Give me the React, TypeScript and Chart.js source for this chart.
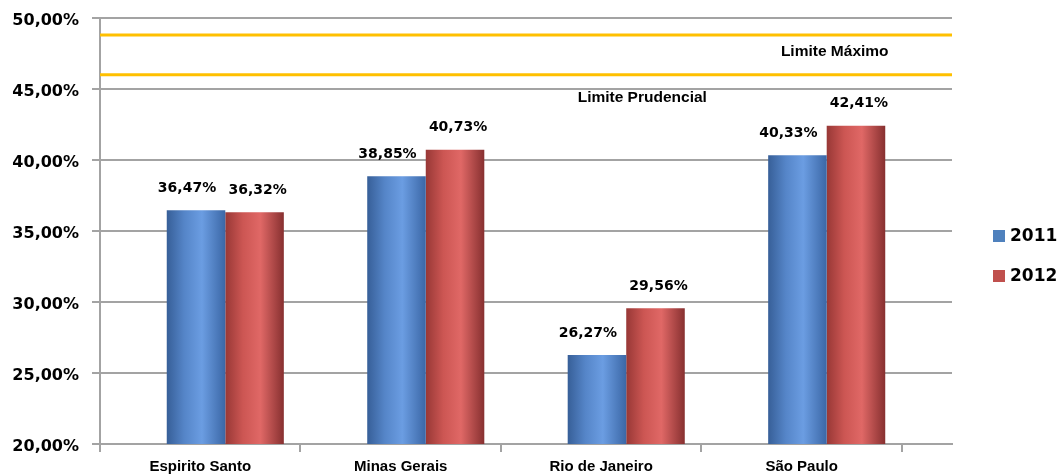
import React, { useEffect, useRef } from 'react';
import { Chart, registerables } from 'chart.js';

Chart.register(...registerables);

// ---- data ----
const categories = ['Espirito Santo', 'Minas Gerais', 'Rio de Janeiro', 'São Paulo'];
const seriesLabels = ['2011', '2012'];
const values2011 = [36.47, 38.85, 26.27, 40.33];
const values2012 = [36.32, 40.73, 29.56, 42.41];
const limitValues = [48.8, 46.0];
const limitLabels = ['Limite Máximo', 'Limite Prudencial'];
const yMin = 20;
const yMax = 50;
const yStep = 5;

// ---- styles ----
const GRID = '#a3a3a3';
const LIMIT_COLOR = '#ffc000';
const palette = [
  { solid: '#4f81bd', stops: ['#375f98', '#5585c8', '#6b9de2', '#3b67a6'], labelDx: -9 },
  { solid: '#c0504d', stops: ['#983836', '#cc5653', '#e06866', '#873030'], labelDx: 3 },
];
const fmt = (v: number) => v.toFixed(2).replace('.', ',') + '%';

// annotation placement (x in category units, y in axis units)
const annotationPlacement = [
  { x: 3.04, y: 47.6 },
  { x: 2.08, y: 44.4 },
];

const decoPlugin = {
  id: 'deco',
  beforeDatasetsDraw(chart: any) {
    const { ctx, chartArea, scales } = chart;
    const ys = scales.y;
    const xs = scales.x;
    ctx.save();
    ctx.strokeStyle = LIMIT_COLOR;
    ctx.lineWidth = 3;
    limitValues.forEach((v) => {
      const py = ys.getPixelForValue(v);
      ctx.beginPath();
      ctx.moveTo(chartArea.left, py);
      ctx.lineTo(chartArea.right, py);
      ctx.stroke();
    });
    ctx.fillStyle = '#000';
    ctx.font = 'bold 15.5px "Liberation Sans"';
    ctx.textAlign = 'center';
    ctx.textBaseline = 'middle';
    limitLabels.forEach((t, i) => {
      const p = annotationPlacement[i];
      ctx.fillText(t, xs.getPixelForValue(p.x), ys.getPixelForValue(p.y));
    });
    ctx.restore();

    chart.data.datasets.forEach((ds: any, di: number) => {
      const meta = chart.getDatasetMeta(di);
      const s = palette[di].stops;
      meta.data.forEach((el: any) => {
        const { x, width } = el.getProps(['x', 'width'], true);
        const g = ctx.createLinearGradient(x - width / 2, 0, x + width / 2, 0);
        g.addColorStop(0, s[0]);
        g.addColorStop(0.3, s[1]);
        g.addColorStop(0.6, s[2]);
        g.addColorStop(1, s[3]);
        el.options = Object.assign({}, el.options, { backgroundColor: g });
      });
    });
  },
  afterDatasetsDraw(chart: any) {
    const { ctx } = chart;
    ctx.save();
    ctx.fillStyle = '#000';
    ctx.font = 'bold 14px "DejaVu Sans"';
    ctx.textAlign = 'center';
    ctx.textBaseline = 'middle';
    chart.data.datasets.forEach((ds: any, di: number) => {
      const meta = chart.getDatasetMeta(di);
      meta.data.forEach((el: any, i: number) => {
        const { x, y } = el.getProps(['x', 'y'], true);
        ctx.fillText(fmt(ds.data[i].y), x + palette[di].labelDx, y - 22);
      });
    });
    ctx.restore();
  },
  afterDraw(chart: any) {
    const { ctx, chartArea } = chart;
    const mid = (chartArea.top + chartArea.bottom) / 2 + 25;
    ctx.save();
    ctx.font = 'bold 17px "DejaVu Sans"';
    ctx.textAlign = 'left';
    ctx.textBaseline = 'middle';
    seriesLabels.forEach((lab, i) => {
      const cy = mid + (i - 0.5) * 40;
      const bx = chartArea.right + 41;
      ctx.fillStyle = palette[i].solid;
      ctx.fillRect(bx, cy - 6, 12, 12);
      ctx.fillStyle = '#000';
      ctx.fillText(lab, bx + 17, cy + 1);
    });
    ctx.restore();
  },
};

export default function App() {
  const ref = useRef<HTMLCanvasElement | null>(null);

  useEffect(() => {
    document.body.style.margin = '0';
    const canvas = ref.current;
    if (!canvas) return;
    const chart = new Chart(canvas, {
      type: 'bar',
      data: {
        datasets: [
          {
            label: seriesLabels[0],
            data: values2011.map((v, i) => ({ x: i, y: v })),
            backgroundColor: palette[0].solid,
            borderWidth: 0,
          },
          {
            label: seriesLabels[1],
            data: values2012.map((v, i) => ({ x: i, y: v })),
            backgroundColor: palette[1].solid,
            borderWidth: 0,
          },
        ],
      },
      options: {
        animation: false,
        responsive: false,
        events: [],
        categoryPercentage: 0.584,
        barPercentage: 1,
        layout: { padding: { top: 18, right: 108, left: 0, bottom: 0 } },
        plugins: {
          legend: { display: false },
          tooltip: { enabled: false },
        },
        scales: {
          x: {
            type: 'linear',
            offset: false,
            min: -0.625,
            max: categories.length - 0.375,
            afterBuildTicks: (axis: any) => {
              axis.ticks = categories.map((c, i) => ({ value: i - 0.125 }));
            },
            afterFit: (axis: any) => {
              axis.height = 30;
              axis.paddingLeft = 0;
              axis.paddingRight = 0;
            },
            grid: {
              offset: true,
              drawOnChartArea: false,
              tickLength: 8,
              color: GRID,
              lineWidth: 2,
            },
            border: { display: true, color: GRID, width: 2 },
            ticks: {
              autoSkip: false,
              maxRotation: 0,
              padding: 6,
              color: '#000',
              font: { family: '"Liberation Sans"', weight: 'bold', size: 15 },
              callback: (v: any, i: number) => categories[i],
            },
          },
          y: {
            min: yMin,
            max: yMax,
            afterFit: (axis: any) => {
              axis.width = 100;
              axis.paddingTop = 0;
              axis.paddingBottom = 0;
            },
            grid: { color: GRID, lineWidth: 2, tickLength: 8 },
            border: { display: true, color: GRID, width: 2 },
            ticks: {
              stepSize: yStep,
              padding: 13,
              labelOffset: 3,
              color: '#000',
              font: { family: '"DejaVu Sans"', weight: 'bold', size: 16 },
              callback: (v: any) => fmt(Number(v)),
            },
          },
        },
      },
      plugins: [decoPlugin],
    } as any);
    return () => chart.destroy();
  }, []);

  return (
    <div style={{ width: 1060, height: 474 }}>
      <canvas ref={ref} width={1060} height={474} style={{ display: 'block' }} />
    </div>
  );
}
